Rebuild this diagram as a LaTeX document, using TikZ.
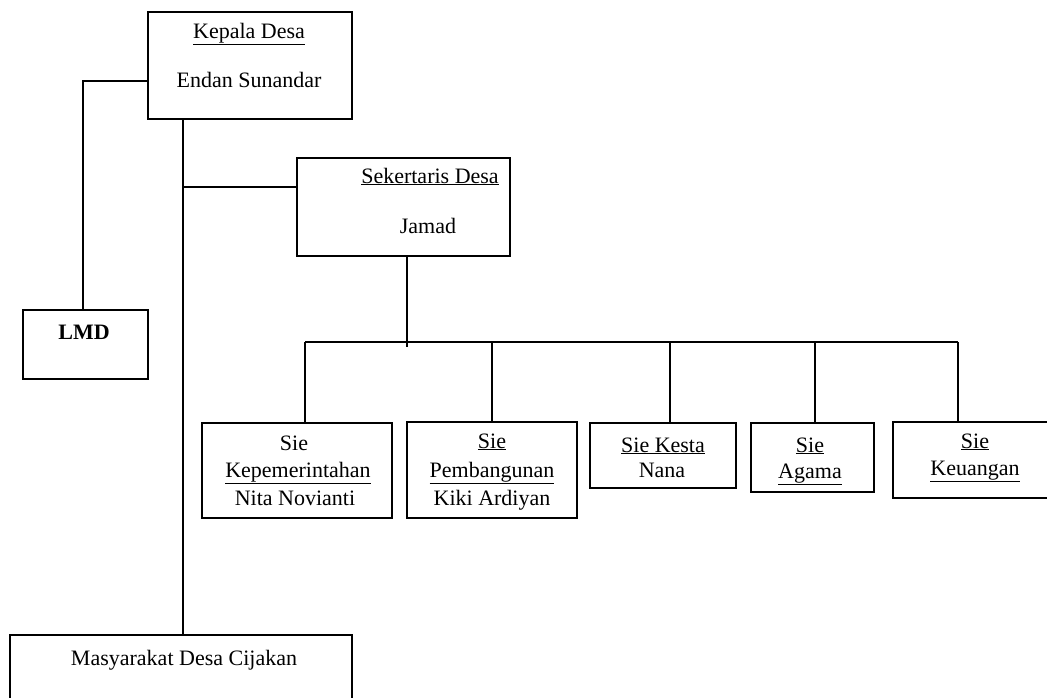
\documentclass[tikz,border=0pt]{standalone}
\usepackage{fontspec}
\setmainfont{Liberation Serif}
\begin{document}
\begin{tikzpicture}[x=1pt,y=-1pt,
  box/.style={draw, line width=1.4pt, inner sep=0pt, outer sep=0pt},
  lbl/.style={anchor=base, inner sep=0pt, font=\fontsize{22}{26}\selectfont},
  link/.style={line width=1.4pt}]
\useasboundingbox (0,0) rectangle (1047,697);
% boxes
\node[box, minimum width=204pt, minimum height=107pt] (kep) at (250,65.5) {};
\node[box, minimum width=125pt, minimum height=69pt] (lmd) at (85.5,344.5) {};
\node[box, minimum width=213pt, minimum height=98pt] (sek) at (403.5,207) {};
\node[box, minimum width=190pt, minimum height=95pt] (kp) at (297,470.5) {};
\node[box, minimum width=170pt, minimum height=96pt] (pb) at (492,470) {};
\node[box, minimum width=146pt, minimum height=65pt] (ks) at (663,455.5) {};
\node[box, minimum width=123pt, minimum height=69pt] (ag) at (812.5,457.5) {};
\node[box, minimum width=177pt, minimum height=76pt] (ku) at (981.5,460) {};
\node[box, minimum width=342pt, minimum height=85pt] (ms) at (181,677.5) {};
% texts
\node[lbl] (t1) at (249,38) {\underline{Kepala Desa}};
\node[lbl] (t2) at (249,87) {Endan Sunandar};
\node[lbl] (t3) at (430,183) {\underline{Sekertaris Desa}};
\node[lbl] (t4) at (428,233) {Jamad};
\node[lbl, font=\fontsize{22}{26}\selectfont\bfseries] (t5) at (84,339) {LMD};
\node[lbl] (t6) at (294,450) {Sie};
\node[lbl] (t7) at (298,477) {\underline{Kepemerintahan}};
\node[lbl] (t8) at (295,505) {Nita Novianti};
\node[lbl] (t9) at (492,448) {\underline{Sie}};
\node[lbl] (t10) at (492,477) {\underline{Pembangunan}};
\node[lbl] (t11) at (492,505) {Kiki Ardiyan};
\node[lbl] (t12) at (663,452) {\underline{Sie Kesta}};
\node[lbl] (t13) at (662,477) {Nana};
\node[lbl] (t14) at (810,452) {\underline{Sie}};
\node[lbl] (t15) at (810,478) {\underline{Agama}};
\node[lbl] (t16) at (975,448) {\underline{Sie}};
\node[lbl] (t17) at (975,475) {\underline{Keuangan}};
\node[lbl] (t18) at (184,665) {Masyarakat Desa Cijakan};
% connectors
\coordinate (tx) at (183,0);
\coordinate (lx) at (83,0);
\coordinate (sx) at (407,0);
\coordinate (bl) at (305,342);
\coordinate (b2) at (492,342);
\coordinate (b3) at (670,342);
\coordinate (b4) at (815,342);
\coordinate (br) at (958,342);
\draw[link] (kep.west |- 0,81) -| (lmd.north -| lx);
\draw[link] (kep.south -| tx) -- (ms.north -| tx);
\draw[link] (tx |- 0,187) -- (sek.west |- 0,187);
\draw[link] (sek.south -| sx) -- (sx |- 0,347);
\draw[link] (bl) -- (br);
\draw[link] (bl) -- (kp.north -| bl);
\draw[link] (b2) -- (pb.north -| b2);
\draw[link] (b3) -- (ks.north -| b3);
\draw[link] (b4) -- (ag.north -| b4);
\draw[link] (br) -- (ku.north -| br);
\end{tikzpicture}
\end{document}
